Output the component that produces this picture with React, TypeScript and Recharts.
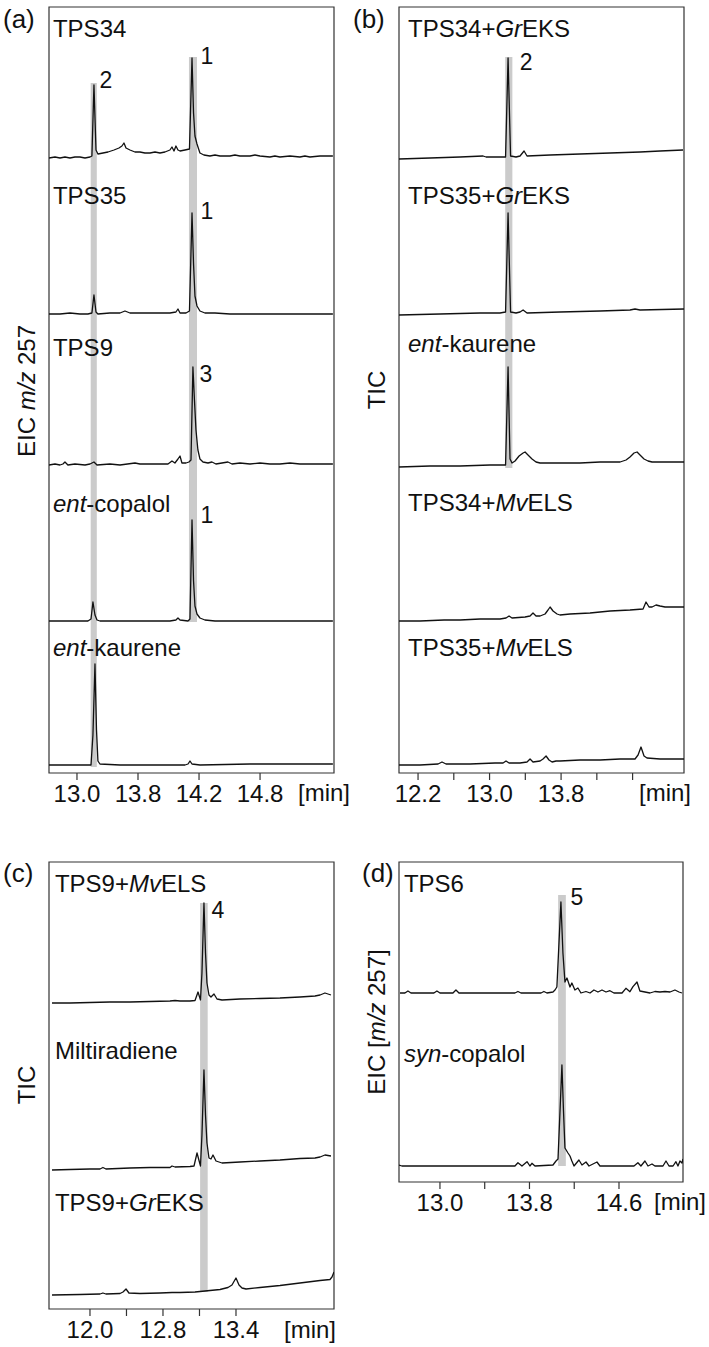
import React from 'react'
import { LineChart, Line, XAxis, YAxis, ReferenceArea, ReferenceDot } from 'recharts'

type Pt = [number, number]
type Band = { t1: number; t2: number; lo: [number, number]; hi: [number, number] }
type PeakTag = { text: string; trace: number; t: number; h: number }

// ---- (a) EIC m/z 257 ----
const aTicks = [13.0, 13.6, 14.2, 14.8]
const aTickLabels = ['13.0', '13.8', '14.2', '14.8']
const aNames = ['TPS34', 'TPS35', 'TPS9', '*ent*-copalol', '*ent*-kaurene']

const aTps34: Pt[] = [
  [12.725, 0], [12.784, 1], [12.833, 0], [12.882, 1], [12.931, 0], [12.98, 1], [13.029, 1], [13.079, 0],
  [13.128, 1], [13.147, 2], [13.167, 73], [13.187, 8], [13.206, 4], [13.256, 5], [13.305, 6], [13.364, 8],
  [13.413, 10], [13.442, 12], [13.462, 15], [13.482, 10], [13.521, 8], [13.57, 6], [13.619, 6], [13.668, 5],
  [13.718, 5], [13.767, 6], [13.816, 5], [13.865, 6], [13.914, 8], [13.934, 11], [13.954, 7], [13.973, 12],
  [13.993, 8], [14.013, 7], [14.062, 8], [14.106, 9], [14.131, 100], [14.146, 45], [14.16, 22], [14.18, 14],
  [14.209, 5], [14.248, 3], [14.307, 2], [14.357, 3], [14.406, 2], [14.504, 2], [14.553, 3], [14.602, 2],
  [14.701, 2], [14.75, 3], [14.799, 2], [14.897, 1], [14.946, 2], [14.995, 1], [15.094, 2], [15.192, 1],
  [15.241, 2], [15.29, 1], [15.389, 2], [15.516, 2],
]
const aTps35: Pt[] = [
  [12.725, 0], [12.833, 0], [12.931, 1], [13.029, 0], [13.108, 0], [13.147, 1], [13.167, 19], [13.187, 2],
  [13.206, 0], [13.324, 1], [13.423, 1], [13.472, 3], [13.521, 1], [13.619, 1], [13.718, 1], [13.816, 1],
  [13.914, 1], [13.973, 2], [13.993, 5], [14.013, 1], [14.072, 1], [14.106, 3], [14.131, 101], [14.146, 50],
  [14.16, 18], [14.18, 8], [14.209, 3], [14.258, 1], [14.357, 1], [14.504, 0], [14.799, 0], [15.094, 0],
  [15.516, 0],
]
const aTps9: Pt[] = [
  [12.725, 0], [12.784, 1], [12.833, 0], [12.862, 1], [12.882, 3], [12.911, 0], [12.98, 1], [13.079, 0],
  [13.128, 1], [13.167, 3], [13.197, 0], [13.324, 1], [13.423, 0], [13.57, 2], [13.619, 1], [13.718, 1],
  [13.816, 1], [13.895, 1], [13.934, 4], [13.963, 2], [13.993, 6], [14.013, 9], [14.032, 2], [14.072, 2],
  [14.101, 3], [14.121, 5], [14.14, 98], [14.155, 65], [14.17, 35], [14.189, 15], [14.209, 6], [14.239, 3],
  [14.288, 2], [14.327, 3], [14.366, 1], [14.425, 2], [14.484, 3], [14.524, 1], [14.602, 2], [14.701, 1],
  [14.799, 2], [14.897, 1], [14.995, 1], [15.094, 2], [15.192, 1], [15.29, 1], [15.389, 1], [15.516, 1],
]
const aEntCopalol: Pt[] = [
  [12.725, 0], [12.931, 0], [13.108, 0], [13.138, 2], [13.157, 19], [13.177, 6], [13.197, 1], [13.226, 0],
  [13.423, 0], [13.718, 0], [13.914, 0], [13.973, 1], [13.993, 3], [14.013, 1], [14.092, 0], [14.111, 2],
  [14.131, 101], [14.146, 40], [14.16, 15], [14.18, 7], [14.209, 3], [14.258, 1], [14.357, 0], [14.799, 0],
  [15.516, 0],
]
const aEntKaurene: Pt[] = [
  [12.725, 0], [13.029, 0], [13.138, 0], [13.157, 30], [13.177, 101], [13.192, 35], [13.206, 4], [13.226, 1],
  [13.423, 0], [13.816, 0], [14.062, 0], [14.092, 1], [14.111, 4], [14.131, 1], [14.209, 0], [14.701, 1],
  [15.516, 1],
]
const aBands: Band[] = [
  { t1: 13.135, t2: 13.195, lo: [4, -2], hi: [0, 75] },
  { t1: 14.101, t2: 14.18, lo: [3, -1], hi: [0, 101] },
]
const aPeakTags: PeakTag[] = [
  { text: '2', trace: 0, t: 13.285, h: 78 },
  { text: '1', trace: 0, t: 14.278, h: 102 },
  { text: '1', trace: 1, t: 14.278, h: 103 },
  { text: '3', trace: 2, t: 14.268, h: 91 },
  { text: '1', trace: 3, t: 14.278, h: 106 },
]

// ---- (b) TIC ----
const bTicks = [12.2, 12.6, 13.0, 13.4, 13.8, 14.2, 14.6]
const bTickLabels = ['12.2', '', '13.0', '', '13.8', '', '']
const bNames = ['TPS34+*Gr*EKS', 'TPS35+*Gr*EKS', '*ent*-kaurene', 'TPS34+*Mv*ELS', 'TPS35+*Mv*ELS']

const bTps34Gr: Pt[] = [
  [11.987, 0], [12.334, 1], [12.67, 2], [12.927, 3], [12.961, 2], [13.117, 2], [13.179, 2], [13.207, 101],
  [13.235, 3], [13.296, 2], [13.341, 3], [13.386, 8], [13.419, 3], [13.677, 4], [14.012, 5], [14.348, 6],
  [14.683, 7], [14.907, 8], [15.164, 9],
]
const bTps35Gr: Pt[] = [
  [11.987, 0], [12.446, 1], [12.894, 2], [13.117, 2], [13.179, 3], [13.207, 102], [13.235, 3], [13.296, 2],
  [13.341, 3], [13.375, 5], [13.419, 2], [13.788, 3], [14.236, 4], [14.571, 5], [14.627, 6], [14.683, 5],
  [15.175, 6],
]
const bEntKaurene: Pt[] = [
  [11.987, 0], [12.334, 1], [12.67, 1], [13.005, 2], [13.162, 2], [13.179, 2], [13.207, 100], [13.229, 8],
  [13.251, 4], [13.285, 6], [13.33, 11], [13.375, 14], [13.397, 15], [13.43, 12], [13.475, 8], [13.52, 5],
  [13.565, 4], [13.788, 4], [14.012, 4], [14.236, 5], [14.46, 5], [14.527, 7], [14.571, 10], [14.616, 14],
  [14.65, 15], [14.683, 12], [14.728, 8], [14.773, 6], [14.818, 5], [14.907, 5], [15.175, 5],
]
const bTps34Mv: Pt[] = [
  [11.987, 0], [12.222, 0], [12.491, 1], [12.67, 1], [12.894, 2], [13.117, 2], [13.184, 3], [13.218, 5],
  [13.251, 3], [13.397, 4], [13.453, 5], [13.486, 8], [13.52, 5], [13.565, 5], [13.621, 7], [13.654, 11],
  [13.677, 14], [13.71, 10], [13.755, 7], [13.788, 6], [13.9, 7], [14.124, 8], [14.348, 10], [14.571, 11],
  [14.717, 12], [14.75, 19], [14.784, 14], [14.818, 14], [14.862, 16], [14.907, 15], [14.963, 14], [15.175, 14],
]
const bTps35Mv: Pt[] = [
  [11.987, 0], [12.222, 0], [12.424, 1], [12.468, 3], [12.513, 1], [12.782, 1], [13.061, 2], [13.151, 2],
  [13.184, 4], [13.218, 2], [13.341, 2], [13.419, 3], [13.453, 6], [13.486, 3], [13.565, 4], [13.598, 6],
  [13.632, 9], [13.665, 5], [13.699, 3], [13.744, 4], [13.788, 4], [14.012, 5], [14.236, 5], [14.46, 6],
  [14.627, 6], [14.661, 10], [14.694, 18], [14.728, 9], [14.761, 7], [14.907, 6], [15.175, 6],
]
const bBands: Band[] = [{ t1: 13.175, t2: 13.255, lo: [2, -1], hi: [0, 102] }]
const bPeakTags: PeakTag[] = [{ text: '2', trace: 0, t: 13.408, h: 97 }]

// ---- (c) TIC ----
const cTicks = [12.0, 12.4, 12.8, 13.2, 13.6]
const cTickLabels = ['12.0', '', '12.8', '', '13.4']
const cNames = ['TPS9+*Mv*ELS', 'Miltiradiene', 'TPS9+*Gr*EKS']

const cTps9Mv: Pt[] = [
  [11.584, 0], [11.781, 0], [12.0, 0.5], [12.219, 1], [12.438, 1], [12.658, 1.5], [12.877, 2], [12.932, 2.5],
  [12.986, 2], [13.096, 2], [13.151, 2.5], [13.184, 11], [13.211, 3], [13.227, 30], [13.249, 100], [13.266, 50],
  [13.282, 20], [13.304, 8], [13.326, 6], [13.359, 9], [13.392, 4], [13.447, 3], [13.644, 4], [13.863, 4.5],
  [14.082, 5], [14.301, 6], [14.466, 7], [14.521, 8], [14.575, 10], [14.641, 8],
]
const cMiltiradiene: Pt[] = [
  [11.584, 0], [11.781, 0.5], [12.0, 1], [12.11, 1], [12.142, 2.5], [12.175, 1], [12.438, 2], [12.658, 2.5],
  [12.877, 2.5], [12.899, 4], [12.932, 3], [13.096, 3.5], [13.14, 4], [13.173, 17], [13.211, 4], [13.227, 35],
  [13.249, 100], [13.266, 55], [13.282, 27], [13.304, 12], [13.326, 11], [13.348, 15], [13.381, 9], [13.447, 7],
  [13.644, 8], [13.863, 9], [14.082, 10], [14.301, 11.5], [14.466, 12], [14.521, 13], [14.575, 15], [14.641, 14],
]
const cTps9Gr: Pt[] = [
  [11.584, 0], [11.89, 0.5], [12.11, 1], [12.142, 2], [12.175, 1], [12.329, 1.5], [12.362, 3], [12.395, 6],
  [12.427, 2], [12.548, 1.5], [12.767, 2], [12.899, 2.5], [12.986, 2.5], [13.151, 3], [13.315, 4.5], [13.425, 5.5],
  [13.512, 7.5], [13.556, 10], [13.6, 17], [13.633, 10], [13.666, 7], [13.71, 6], [13.863, 7.5], [14.082, 9.5],
  [14.301, 12], [14.521, 14.5], [14.63, 15.5], [14.652, 18], [14.674, 23],
]
const cBands: Band[] = [{ t1: 13.207, t2: 13.29, lo: [2, 3], hi: [0, 100] }]
const cPeakTags: PeakTag[] = [{ text: '4', trace: 0, t: 13.403, h: 93 }]

// ---- (d) EIC [m/z 257] ----
const dTicks = [13.0, 13.4, 13.8, 14.2, 14.6]
const dTickLabels = ['13.0', '', '13.8', '', '14.6']
const dNames = ['TPS6', '*syn*-copalol']

const dTps6: Pt[] = [
  [12.643, 0], [12.687, 0], [12.714, 2], [12.741, 0], [12.946, 0], [12.973, 2], [13.0, 0], [13.116, 0],
  [13.143, 3], [13.17, 0], [13.67, 0], [13.697, 1.5], [13.724, 0], [13.903, 0], [13.929, 1.5], [13.956, 0],
  [14.01, 1], [14.028, 3], [14.045, 6], [14.081, 91], [14.099, 40], [14.117, 11], [14.135, 15], [14.162, 6],
  [14.179, 10], [14.206, 3], [14.233, 5], [14.26, 0], [14.305, 1.5], [14.341, 0], [14.376, 3], [14.412, 1],
  [14.448, 3], [14.484, 1], [14.519, 2.3], [14.555, 0], [14.627, 0], [14.662, 4.7], [14.698, 1.3], [14.725, 6.3],
  [14.761, 11], [14.787, 2], [14.832, 1], [14.877, 0], [14.921, 1.5], [14.966, 1], [15.011, 1.5], [15.056, 1],
  [15.1, 3], [15.136, 1], [15.163, 0],
]
const dSynCopalol: Pt[] = [
  [12.634, 1], [12.66, 0], [13.67, 0], [13.697, 3.3], [13.733, 0], [13.778, 4.3], [13.804, 0], [13.822, 2.7],
  [13.849, 0], [14.01, 1], [14.037, 5], [14.055, 7], [14.09, 101], [14.104, 55], [14.117, 18], [14.144, 13],
  [14.162, 10], [14.179, 5], [14.198, 0], [14.242, 6], [14.269, 1], [14.305, 4], [14.332, 0], [14.403, 4],
  [14.43, 0], [14.734, 0], [14.769, 3.3], [14.796, 0], [14.832, 5], [14.859, 0], [14.895, 2], [14.921, 0],
  [14.993, 0], [15.02, 5], [15.047, 0], [15.083, 0], [15.109, 4.3], [15.127, 0], [15.145, 5], [15.163, 3],
  [15.172, 7],
]
const dBands: Band[] = [{ t1: 14.056, t2: 14.125, lo: [1, 0], hi: [0, 98] }]
const dPeakTags: PeakTag[] = [{ text: '5', trace: 0, t: 14.224, h: 96 }]

const FONT = '"Liberation Sans", Arial, Helvetica, sans-serif'
const INK = '#111'
const FS = 24

function NameLabel(props: any) {
  const vb = props.viewBox || {}
  const x = (vb.x ?? 0) + (vb.width ?? 0) / 2
  const y = (vb.y ?? 0) + (vb.height ?? 0) / 2
  const parts = String(props.text).split('*')
  return (
    <text x={x} y={y} dy="0.36em" fontSize={FS} fill={INK} textAnchor="start">
      {parts.map((p, i) => (
        <tspan key={i} fontStyle={i % 2 ? 'italic' : 'normal'}>{p}</tspan>
      ))}
    </text>
  )
}

interface PanelProps {
  left: number
  top: number
  width: number
  height: number
  margin: { top: number; right: number; bottom: number; left: number }
  axisHeight: number
  domain: [number, number]
  yMax: number
  ticks: number[]
  tickLabels: string[]
  traces: Pt[][]
  names: string[]
  offsets: number[]
  nameH: number[]
  nameT: number
  bands: Band[]
  peaks: PeakTag[]
}

function Panel(p: PanelProps) {
  return (
    <div style={{ position: 'absolute', left: p.left, top: p.top }}>
      <LineChart width={p.width} height={p.height} margin={p.margin}>
        <XAxis
          type="number"
          dataKey="t"
          domain={p.domain}
          ticks={p.ticks}
          interval={0}
          allowDataOverflow
          height={p.axisHeight}
          axisLine={false}
          tickLine={{ stroke: '#333', strokeWidth: 1.2 }}
          tickSize={7}
          tickMargin={5}
          tick={{ fontSize: FS, fill: INK }}
          tickFormatter={(v: number) => p.tickLabels[p.ticks.indexOf(v)] ?? ''}
        />
        <YAxis type="number" domain={[0, p.yMax]} hide allowDataOverflow />
        {p.bands.map((b, i) => (
          <ReferenceArea
            key={`band-${i}`}
            x1={b.t1}
            x2={b.t2}
            y1={p.offsets[b.lo[0]] + b.lo[1]}
            y2={p.offsets[b.hi[0]] + b.hi[1]}
            fill="#cbcbcb"
            fillOpacity={1}
            stroke="none"
            ifOverflow="visible"
          />
        ))}
        {p.traces.map((tr, i) => (
          <Line
            key={`trace-${i}`}
            data={tr.map(([t, h]) => ({ t, v: p.offsets[i] + h }))}
            dataKey="v"
            type="linear"
            stroke={INK}
            strokeWidth={1.3}
            strokeLinejoin="round"
            dot={false}
            activeDot={false}
            isAnimationActive={false}
          />
        ))}
        <ReferenceArea
          x1={p.domain[0]}
          x2={p.domain[1]}
          y1={0}
          y2={p.yMax}
          fill="none"
          stroke="#333"
          strokeWidth={1.2}
          ifOverflow="visible"
        />
        {p.peaks.map((pk, i) => (
          <ReferenceDot
            key={`peak-${i}`}
            x={pk.t}
            y={p.offsets[pk.trace] + pk.h}
            r={0}
            fill="none"
            stroke="none"
            ifOverflow="visible"
            label={{ value: pk.text, position: 'center', fontSize: 23, fill: INK }}
          />
        ))}
        {p.names.map((n, i) => (
          <ReferenceDot
            key={`name-${i}`}
            x={p.nameT}
            y={p.offsets[i] + p.nameH[i]}
            r={0}
            fill="none"
            stroke="none"
            ifOverflow="visible"
            label={<NameLabel text={n} />}
          />
        ))}
      </LineChart>
    </div>
  )
}

const abs = (left: number, top: number, size = FS): React.CSSProperties => ({
  position: 'absolute',
  left,
  top,
  fontSize: size,
  lineHeight: 1,
  color: INK,
  whiteSpace: 'nowrap',
})

const yTitle = (cx: number, cy: number): React.CSSProperties => ({
  position: 'absolute',
  left: cx,
  top: cy,
  fontSize: FS,
  lineHeight: 1,
  color: INK,
  whiteSpace: 'nowrap',
  transform: 'translate(-50%, -50%) rotate(-90deg)',
})

export default function App() {
  return (
    <div
      style={{
        position: 'absolute',
        left: 0,
        top: 0,
        width: 709,
        height: 1347,
        background: '#fff',
        fontFamily: FONT,
        overflow: 'hidden',
      }}
    >
      <Panel
        left={0}
        top={0}
        width={360}
        height={820}
        margin={{ top: 7, right: 26, bottom: 7, left: 49 }}
        axisHeight={40}
        domain={[12.725, 15.527]}
        yMax={766}
        ticks={aTicks}
        tickLabels={aTickLabels}
        traces={[aTps34, aTps35, aTps9, aEntCopalol, aEntKaurene]}
        names={aNames}
        offsets={[615, 459, 308, 152, 8]}
        nameH={[130, 119, 118, 118, 118]}
        nameT={12.764}
        bands={aBands}
        peaks={aPeakTags}
      />
      <Panel
        left={350}
        top={0}
        width={359}
        height={820}
        margin={{ top: 7, right: 25, bottom: 7, left: 49 }}
        axisHeight={40}
        domain={[11.987, 15.175]}
        yMax={766}
        ticks={bTicks}
        tickLabels={bTickLabels}
        traces={[bTps34Gr, bTps35Gr, bEntKaurene, bTps34Mv, bTps35Mv]}
        names={bNames}
        offsets={[614, 458, 306, 152, 8]}
        nameH={[131, 120, 124, 119, 118]}
        nameT={12.088}
        bands={bBands}
        peaks={bPeakTags}
      />
      <Panel
        left={0}
        top={820}
        width={360}
        height={527}
        margin={{ top: 42, right: 26, bottom: 8, left: 49 }}
        axisHeight={30}
        domain={[11.551, 14.674]}
        yMax={447}
        ticks={cTicks}
        tickLabels={cTickLabels}
        traces={[cTps9Mv, cMiltiradiene, cTps9Gr]}
        names={cNames}
        offsets={[306, 139, 14]}
        nameH={[120, 120, 93]}
        nameT={11.616}
        bands={cBands}
        peaks={cPeakTags}
      />
      <Panel
        left={350}
        top={820}
        width={359}
        height={420}
        margin={{ top: 42, right: 26, bottom: 18, left: 49 }}
        axisHeight={40}
        domain={[12.634, 15.172]}
        yMax={320}
        ticks={dTicks}
        tickLabels={dTickLabels}
        traces={[dTps6, dSynCopalol]}
        names={dNames}
        offsets={[189, 16]}
        nameH={[110, 113]}
        nameT={12.678}
        bands={dBands}
        peaks={dPeakTags}
      />

      <div style={abs(3, 6, 26)}>(a)</div>
      <div style={abs(353, 6, 26)}>(b)</div>
      <div style={abs(3, 860, 26)}>(c)</div>
      <div style={abs(362, 860, 26)}>(d)</div>

      <div style={yTitle(27, 391)}>
        EIC <i>m/z</i> 257
      </div>
      <div style={yTitle(377, 390)}>TIC</div>
      <div style={yTitle(27, 1085)}>TIC</div>
      <div style={yTitle(377, 1022)}>
        EIC [<i>m/z</i> 257]
      </div>

      <div style={abs(298, 781)}>[min]</div>
      <div style={abs(639, 781)}>[min]</div>
      <div style={abs(284, 1318)}>[min]</div>
      <div style={abs(654, 1190)}>[min]</div>
    </div>
  )
}
